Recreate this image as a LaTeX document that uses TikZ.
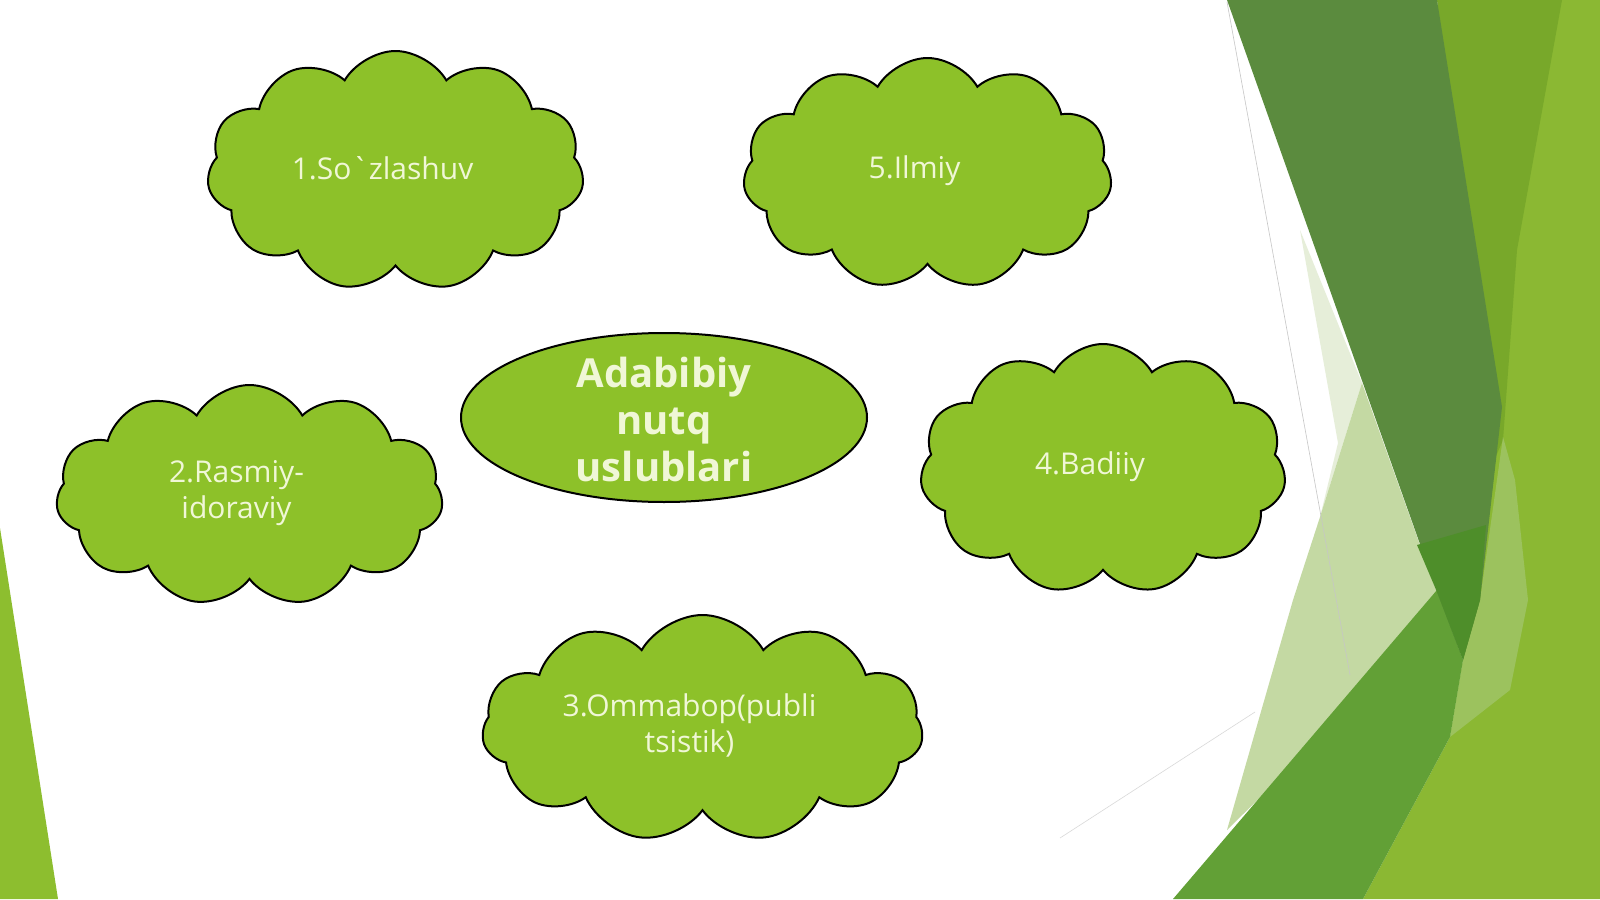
\documentclass[tikz,border=0pt]{standalone}
\usepackage{fontspec}
\setmainfont{Open Sans}[Ligatures=TeXOff]
\usetikzlibrary{shapes.symbols,shapes.geometric,positioning}
\definecolor{leaf}{HTML}{8DC129}
\definecolor{chalk}{HTML}{F0F7D6}
\definecolor{moss}{HTML}{5B8B3E}
\definecolor{deep}{HTML}{4E8E2A}
\definecolor{fern}{HTML}{78A82A}
\definecolor{lime}{HTML}{8BB833}
\definecolor{grass}{HTML}{62A036}
\definecolor{sage}{HTML}{C4D9A3}
\definecolor{mist}{HTML}{E6EED9}
\definecolor{sprout}{HTML}{9CC25E}
\definecolor{strip}{HTML}{8DBE2F}
\tikzset{
    puff/.style={cloud,cloud puffs=11,cloud puff arc=120,cloud ignores aspect,
                 draw=black,line width=1pt,fill=leaf,inner sep=0pt},
    hub/.style={ellipse,draw=black,line width=1pt,fill=leaf,inner sep=0pt},
    word/.style={text=chalk,font=\fontsize{15}{18}\selectfont,align=center,inner sep=0pt},
    bigword/.style={word,font=\bfseries\fontsize{20}{23.5}\selectfont},
    facet/.style={draw=none}
}

\begin{document}
\begin{tikzpicture}
                [x=0.5pt,y=-0.5pt,shifted/.style={xshift=-6.5pt,yshift=1.3pt}]

                \fill[white] (0,0) rectangle (1600,899);
                \useasboundingbox (0,0) rectangle (1600,899);

                \fill[facet,strip]  (0,528) -- (58,899) -- (0,899) -- cycle;
                \fill[facet,lime]   (1455,0) -- (1600,0) -- (1600,899) -- (1363,899)
                                    -- (1450,737) -- (1463,660) -- cycle;
                \fill[facet,fern]   (1437,0) -- (1562,0) -- (1517,250) -- (1503,440)
                                    -- (1490,470) -- cycle;
                \fill[facet,sprout] (1503,437) -- (1515,480) -- (1528,600) -- (1510,690)
                                    -- (1450,737) -- (1463,660) -- (1480,600) -- cycle;
                \fill[facet,mist]   (1300,230) -- (1362,383) -- (1320,517) -- (1338,443) -- cycle;
                \fill[facet,sage]   (1362,383) -- (1445,615) -- (1227,830) -- (1293,600)
                                    -- (1320,517) -- cycle;
                \fill[facet,grass]  (1437,590) -- (1463,660) -- (1450,737) -- (1363,899)
                                    -- (1173,899) -- cycle;
                \fill[facet,moss]   (1227,0) -- (1437,0) -- (1502,407) -- (1480,600)
                                    -- (1463,660) -- (1437,592) -- cycle;
                \fill[facet,deep]   (1417,545) -- (1486,525) -- (1480,600) -- (1463,660)
                                    -- (1437,592) -- cycle;
                \draw[gray!45,line width=0.3pt] (1227,2) -- (1350,675);
                \draw[gray!30,line width=0.3pt] (1060,838) -- (1255,712);

                \node[puff,minimum width=188.5pt,minimum height=120pt] (sozlashuv) at (395.5,171)   {};
                \node[puff,minimum width=184.5pt,minimum height=115.5pt] (ilmiy)   at (927.5,173.5) {};
                \node[puff,minimum width=193.5pt,minimum height=110.5pt] (rasmiy)  at (249.5,495.5) {};
                \node[puff,minimum width=183pt,minimum height=125pt]   (badiiy)    at (1103,469)    {};
                \node[puff,minimum width=220.5pt,minimum height=113.5pt] (ommabop) at (702.5,728.5) {};
                \node[hub,minimum width=203pt,minimum height=84.5pt]   (nutq)      at (664,417.5)   {};

                \node[word,shifted] (sozlashuv text) at (sozlashuv) {1.So`zlashuv};
                \node[word,shifted] (ilmiy text)     at (ilmiy)     {5.Ilmiy};
                \node[word,shifted] (rasmiy text)    at (rasmiy)    {2.Rasmiy-\\idoraviy};
                \node[word,shifted] (badiiy text)    at (badiiy)    {4.Badiiy};
                \node[word,shifted] (ommabop text)   at (ommabop)   {3.Ommabop(publi\\tsistik)};
                \node[bigword,yshift=-0.8pt] (nutq text) at (nutq)  {Adabibiy\\nutq\\uslublari};

            \end{tikzpicture}
\end{document}
